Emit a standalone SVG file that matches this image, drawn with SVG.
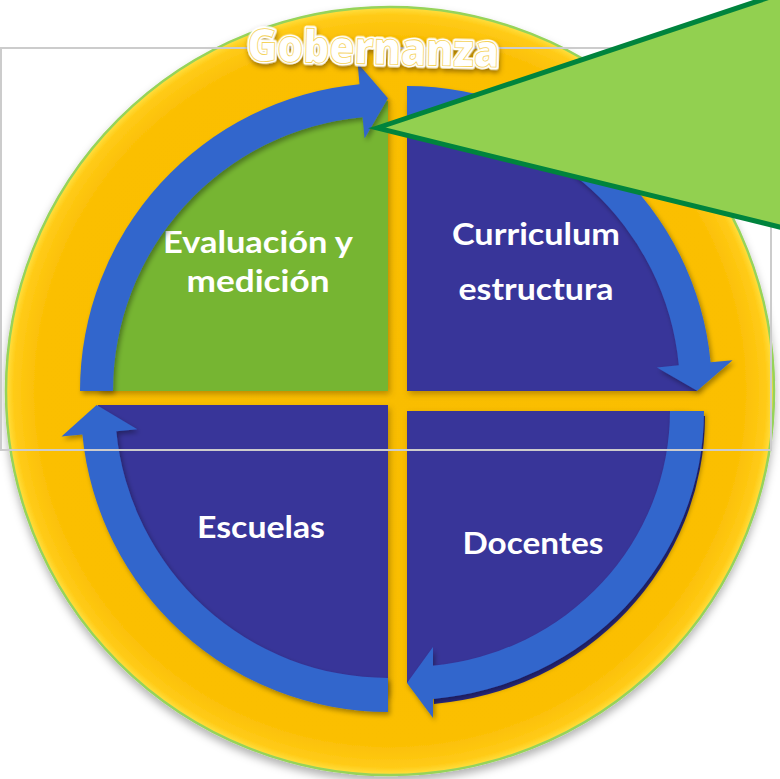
<svg xmlns="http://www.w3.org/2000/svg" width="780" height="779" viewBox="0 0 780 779">
<defs>
<style>
.lbl{font-family:Lato,"Open Sans","Liberation Sans",sans-serif;font-weight:700;font-size:31px;fill:#ffffff;text-anchor:middle}
.band{fill:#3366cc;filter:url(#sh)}
.navy{fill:#373599;filter:url(#sh2)}
.title{font-family:"Open Sans","Liberation Sans",sans-serif;font-weight:800;font-size:45px}
</style>
<radialGradient id="yg" cx="0.5" cy="0.5" r="0.5">
<stop offset="0" stop-color="#f9bd00"/>
<stop offset="0.92" stop-color="#fbbf04"/>
<stop offset="0.98" stop-color="#ffcb18"/>
<stop offset="1" stop-color="#ffe040"/>
</radialGradient>
<filter id="sh" x="-20%" y="-20%" width="140%" height="140%">
<feDropShadow dx="2" dy="3" stdDeviation="2.5" flood-color="#000" flood-opacity="0.35"/>
</filter>
<filter id="sh2" x="-20%" y="-20%" width="140%" height="140%">
<feDropShadow dx="2" dy="3" stdDeviation="3" flood-color="#6b4a00" flood-opacity="0.45"/>
</filter>
<filter id="sh3" x="-10%" y="-10%" width="120%" height="125%">
<feDropShadow dx="0" dy="5" stdDeviation="4" flood-color="#000" flood-opacity="0.3"/>
</filter>
<filter id="tsh" x="-10%" y="-30%" width="120%" height="160%">
<feDropShadow dx="1" dy="3" stdDeviation="2.5" flood-color="#5a3c00" flood-opacity="0.6"/>
</filter>
</defs>

<g id="gobernanza">
<circle cx="390" cy="391" r="384" fill="url(#yg)" stroke="#96d35a" stroke-width="2.5" filter="url(#sh3)"/>
</g>

<g id="evaluacion">
<path class="navy" style="fill:#76b531" d="M388,391 L98,391 A290,290 0 0 1 388,101 Z"/>
<text class="lbl" x="258" y="253" textLength="190" lengthAdjust="spacingAndGlyphs">Evaluación y</text>
<text class="lbl" x="258" y="292" textLength="143" lengthAdjust="spacingAndGlyphs">medición</text>
</g>

<g id="curriculum">
<path class="navy" d="M407,391 L407,101 A290,290 0 0 1 697,391 Z"/>
<text class="lbl" x="536" y="245" textLength="168" lengthAdjust="spacingAndGlyphs">Curriculum</text>
<text class="lbl" x="536" y="300" textLength="155" lengthAdjust="spacingAndGlyphs">estructura</text>
</g>

<g id="docentes">
<path class="navy" d="M407,411 L687,411 A280,272 0 0 1 407,683 Z"/>
<text class="lbl" x="533" y="554" textLength="141" lengthAdjust="spacingAndGlyphs">Docentes</text>
</g>

<g id="escuelas">
<path class="navy" d="M388,405 L388,695 A290,290 0 0 1 98,405 Z"/>
<text class="lbl" x="261" y="538" textLength="128" lengthAdjust="spacingAndGlyphs">Escuelas</text>
</g>

<g id="connectors">
<path class="band" d="M80,391 A308,308 0 0 1 359.5,84.3 L357.6,62.9 L388,98.2 L364.6,138.6 L362.6,117.2 A275,275 0 0 0 113,391 Z"/>
<path class="band" d="M407,86 A305,305 0 0 1 710.6,362.3 L732.6,360.2 L697.2,390.7 L656.9,367.4 L678.8,365.3 A273,273 0 0 0 407,118 Z"/>
<path fill="#2a2a85" transform="translate(1,5)" d="M704,411 A297,289 0 0 1 433,698.9 L433,665.8 A263,256 0 0 0 670,411 Z"/>
<path class="band" d="M704,411 A297,289 0 0 1 433,698.9 L433,718 L407,683 L433,647 L433,665.8 A263,256 0 0 0 670,411 Z"/>
<path class="band" d="M388,712 A307,307 0 0 1 82.4,434.4 L61.5,436.4 L96.6,404.9 L137.2,429.2 L116.3,431.2 A273,273 0 0 0 388,678 Z"/>
</g>

<rect x="1" y="48" width="770" height="402" fill="none" stroke="#cccccc" stroke-width="2"/>

<g id="titulo" transform="rotate(1.5 374 60)">
<text class="title" x="373" y="64" text-anchor="middle" textLength="252" lengthAdjust="spacingAndGlyphs" fill="#ffffff" stroke="#ffffff" stroke-width="5" stroke-linejoin="round" filter="url(#tsh)">Gobernanza</text>
<text class="title" x="373" y="64" text-anchor="middle" textLength="252" lengthAdjust="spacingAndGlyphs" fill="#ffffff" stroke="#f5d35a" stroke-width="0.8">Gobernanza</text>
</g>

<g id="callout">
<polygon points="377,128 800,-13 800,232" fill="#92d050" stroke="#00843d" stroke-width="5" stroke-linejoin="miter"/>
</g>
</svg>
